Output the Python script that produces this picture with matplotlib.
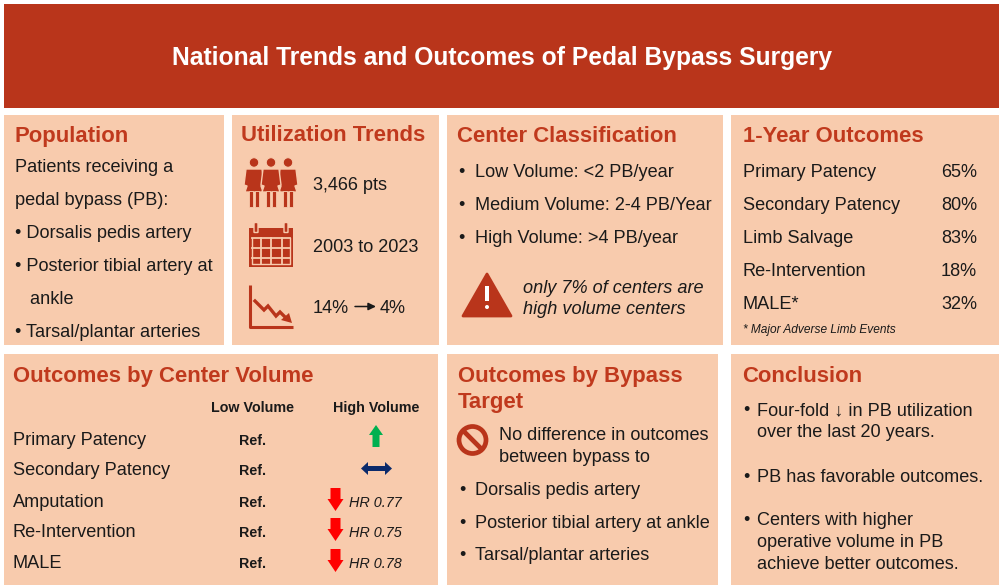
import matplotlib
matplotlib.use("Agg")
import matplotlib.pyplot as plt
from matplotlib.patches import Rectangle, Polygon, Circle, FancyBboxPatch

plt.rcParams['font.family'] = ['Liberation Sans', 'DejaVu Sans']

# ---- content ----
title = "National Trends and Outcomes of Pedal Bypass Surgery"

population_lines = ["Patients receiving a", "pedal bypass (PB):",
                    "\u2022 Dorsalis pedis artery", "\u2022 Posterior tibial artery at",
                    "   ankle", "\u2022 Tarsal/plantar arteries"]

util_labels = ["3,466 pts", "2003 to 2023"]
util_from, util_to = "14%", "4%"

center_classes = ["Low Volume: <2 PB/year", "Medium Volume: 2-4 PB/Year",
                  "High Volume: >4 PB/year"]
center_note = ["only 7% of centers are", "high volume centers"]

outcome_names = ["Primary Patency", "Secondary Patency", "Limb Salvage",
                 "Re-Intervention", "MALE*"]
outcome_pct = [65, 80, 83, 18, 32]
outcome_note = "* Major Adverse Limb Events"

vol_rows = ["Primary Patency", "Secondary Patency", "Amputation",
            "Re-Intervention", "MALE"]
vol_low = ["Ref.", "Ref.", "Ref.", "Ref.", "Ref."]
vol_dir = ["up", "both", "down", "down", "down"]
vol_hr = [None, None, 0.77, 0.75, 0.78]

target_note = ["No difference in outcomes", "between bypass to"]
targets = ["Dorsalis pedis artery", "Posterior tibial artery at ankle",
           "Tarsal/plantar arteries"]

conclusions = [["Four-fold \u2193 in PB utilization", "over the last 20 years."],
               ["PB has favorable outcomes."],
               ["Centers with higher", "operative volume in PB", "achieve better outcomes."]]

# ---- style ----
RED = "#B9351B"
HEAD = "#C0391D"
PANEL = "#F8CBAD"
TXT = "#1A1A1A"
BODY = 13.1
HSIZE = 15.9

fig = plt.figure(figsize=(10, 5.87), dpi=100)
ax = fig.add_axes([0, 0, 1, 1])
ax.set_xlim(0, 1000)
ax.set_ylim(587, 0)
ax.axis("off")


def box(x0, y0, x1, y1, color=PANEL):
    ax.add_patch(Rectangle((x0, y0), x1 - x0, y1 - y0, facecolor=color, edgecolor="none"))


def txt(x, y, s, size=BODY, **kw):
    kw.setdefault("color", TXT)
    ax.text(x, y, s, fontsize=size, va="baseline", **kw)


def heading(x, y, s):
    txt(x, y, s, size=HSIZE, color=HEAD, fontweight="bold")


# header
box(4, 4, 999, 108, RED)
ax.text(502, 65, title, fontsize=17.7, color="white", fontweight="bold",
        ha="center", va="baseline")

# panels
box(4, 115, 224, 345)
box(232, 115, 439, 345)
box(447, 115, 723, 345)
box(731, 115, 999, 345)
box(4, 354, 438, 585)
box(447, 354, 718, 585)
box(731, 354, 999, 585)

# Population
heading(14, 142, "Population")
for i, s in enumerate(population_lines):
    txt(15, 172 + 33 * i, s)

# Utilization trends
heading(241, 141, "Utilization Trends")
for i, s in enumerate(util_labels):
    txt(313, 190 + 62.5 * i, s)
txt(313, 313, util_from)
ax.annotate("", xy=(376, 306.5), xytext=(355, 306.5),
            arrowprops=dict(arrowstyle="-|>,head_length=0.45,head_width=0.22",
                            color=TXT, lw=1.1, shrinkA=0, shrinkB=0))
txt(380, 313, util_to)

# people icon
for cx in [254, 288, 271]:
    ax.add_patch(Polygon([(cx - 8, 169), (cx + 8, 169), (cx + 10, 185), (cx + 7, 186),
                          (cx + 9, 192), (cx - 9, 192), (cx - 7, 186), (cx - 10, 185)],
                         closed=True, facecolor=RED, edgecolor=PANEL, lw=1.0,
                         joinstyle="round"))
    ax.add_patch(Circle((cx, 162.5), 4.8, facecolor=RED, edgecolor=PANEL, lw=0.8))
    ax.add_patch(Rectangle((cx - 5, 191), 4.2, 16, facecolor=RED, edgecolor=PANEL, lw=0.6))
    ax.add_patch(Rectangle((cx + 0.8, 191), 4.2, 16, facecolor=RED, edgecolor=PANEL, lw=0.6))

# calendar icon
ax.add_patch(Rectangle((249, 228), 44, 39, facecolor=RED, edgecolor="none"))
for yy in [237.5, 247.5, 257.5]:
    ax.plot([252, 290], [yy, yy], color=PANEL, lw=1.3)
for xx in [260.5, 271, 281.5]:
    ax.plot([xx, xx], [238, 264], color=PANEL, lw=1.3)
ax.plot([252, 252, 290, 290], [237.5, 264, 264, 237.5], color=PANEL, lw=1.0)
for xx in [256, 286]:
    ax.add_patch(FancyBboxPatch((xx - 1.5, 223), 3, 9, boxstyle="round,pad=0.5",
                                facecolor=RED, edgecolor=PANEL, lw=1.0))

# declining chart icon
ax.plot([250, 250, 293], [285, 327, 327], color=RED, lw=2.2, solid_capstyle="butt")
ax.plot([255, 264, 268, 276, 280, 286], [301, 310, 306, 316, 312, 318],
        color=RED, lw=2.4, solid_joinstyle="miter")
ax.add_patch(Polygon([(292, 323), (281, 320), (289, 313)], closed=True,
                     facecolor=RED, edgecolor="none"))

# Center classification
heading(457, 142, "Center Classification")
for i, s in enumerate(center_classes):
    txt(458, 177 + 33 * i, "\u2022")
    txt(475, 177 + 33 * i, s)
ax.add_patch(Polygon([(487, 274), (511, 316), (463, 316)], closed=True,
                     facecolor=RED, edgecolor=RED, lw=2, joinstyle="round"))
ax.add_patch(Rectangle((485.3, 286), 3.4, 15, facecolor="white", edgecolor="none"))
ax.add_patch(Circle((487, 307), 2.0, facecolor="white", edgecolor="none"))
for i, s in enumerate(center_note):
    txt(523, 293 + 21 * i, s, style="italic")

# 1-Year outcomes
heading(743, 142, "1-Year Outcomes")
for i, (name, pct) in enumerate(zip(outcome_names, outcome_pct)):
    txt(743, 177 + 33 * i, name)
    txt(977, 177 + 33 * i, "%d%%" % pct, ha="right")
txt(743, 333, outcome_note, size=8.6, style="italic")

# Outcomes by center volume
heading(13, 382, "Outcomes by Center Volume")
txt(252.5, 412, "Low Volume", size=10.3, fontweight="bold", ha="center")
txt(376, 412, "High Volume", size=10.3, fontweight="bold", ha="center")
row_y = [445, 475, 507, 537, 568]
for y, name, low, d, hr in zip(row_y, vol_rows, vol_low, vol_dir, vol_hr):
    txt(13, y, name)
    txt(252.5, y, low, size=10.3, fontweight="bold", ha="center")
    if d == "up":
        cx, top = 376, y - 20
        ax.add_patch(Polygon([(cx, top), (cx + 7, top + 10), (cx + 3.5, top + 10),
                              (cx + 3.5, top + 22), (cx - 3.5, top + 22),
                              (cx - 3.5, top + 10), (cx - 7, top + 10)],
                             closed=True, facecolor="#00B050", edgecolor="none"))
    elif d == "both":
        cy = y - 6.5
        ax.add_patch(Polygon([(361, cy), (368, cy - 6.5), (368, cy - 2.5), (385, cy - 2.5),
                              (385, cy - 6.5), (392, cy), (385, cy + 6.5), (385, cy + 2.5),
                              (368, cy + 2.5), (368, cy + 6.5)],
                             closed=True, facecolor="#0B2A6B", edgecolor="none"))
    else:
        cx, top = 335.5, y - 19
        ax.add_patch(Polygon([(cx - 5, top), (cx + 5, top), (cx + 5, top + 11),
                              (cx + 8, top + 11), (cx, top + 23), (cx - 8, top + 11),
                              (cx - 5, top + 11)],
                             closed=True, facecolor="#FF0000", edgecolor="none"))
    if hr is not None:
        txt(349, y, "HR %.2f" % hr, size=10.4, style="italic")

# Outcomes by bypass target
heading(458, 382, "Outcomes by Bypass")
heading(458, 408, "Target")
ax.add_patch(Circle((472.5, 440), 13.5, facecolor="none", edgecolor=RED, lw=3.4))
ax.plot([463, 482], [430.5, 449.5], color=RED, lw=3.4, solid_capstyle="butt")
for i, s in enumerate(target_note):
    txt(499, 440 + 22 * i, s)
for i, s in enumerate(targets):
    txt(459, 495 + 32.5 * i, "\u2022")
    txt(475, 495 + 32.5 * i, s)

# Conclusion
heading(742, 382, "Conclusion")
starts = [415, 482, 525]
for y0, lines in zip(starts, conclusions):
    txt(743, y0, "\u2022")
    for j, s in enumerate(lines):
        txt(757, y0 + 22 * j, s)

fig.savefig("out.png", dpi=100, facecolor="white")
